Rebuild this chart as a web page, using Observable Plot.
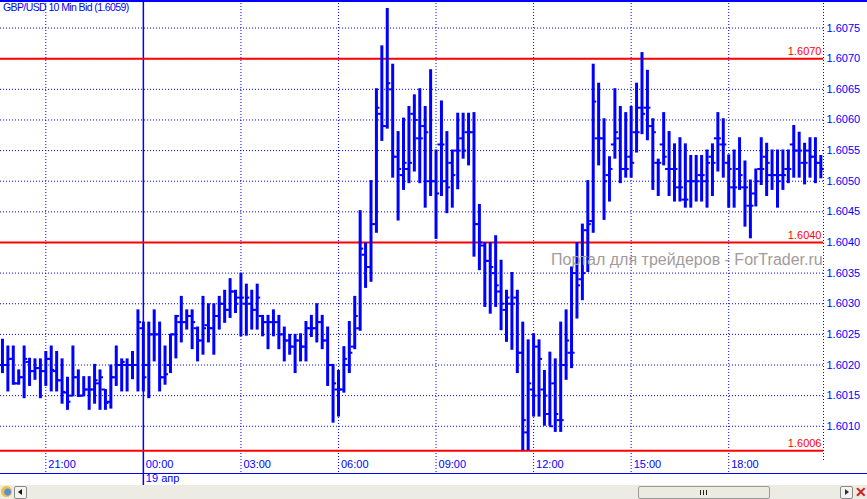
<!DOCTYPE html>
<html>
<head>
<meta charset="utf-8">
<script src="https://cdn.jsdelivr.net/npm/d3@7"></script>
<script src="https://cdn.jsdelivr.net/npm/@observablehq/plot@0.6"></script>
<style>
  html, body { margin: 0; padding: 0; background: #fff; }
  #wrap { position: relative; width: 867px; height: 499px; overflow: hidden; background: #fff;
          font-family: "Liberation Sans", Arial, sans-serif; }
  #chart { position: absolute; left: 0; top: 0; }
  .ov { position: absolute; white-space: nowrap; }
  #topline { left: 0; top: 0; width: 867px; height: 2px; background: #0000ff; }
  #botline { left: 0; top: 473px; width: 867px; height: 1px; background: #0000ff; }
  #title { left: 3px; top: 1px; font-size: 10.5px; letter-spacing: -0.6px; color: #0000ff; line-height: 13px; }
  #wm { left: 551px; top: 253px; font-size: 16px; color: #a39b9b; line-height: 14px; }
  #scroll { left: 0; top: 485px; width: 867px; height: 14px; background: #ecebe4; }
  .btn { position: absolute; top: 1px; width: 11px; height: 11px; background: #f4f3ee; border: 1px solid #8a8a8a; border-radius: 2px; }
  #thumb { position: absolute; left: 638px; top: 1px; width: 130px; height: 11px; background: #ecebe2; border: 1px solid #9a9a9a; border-radius: 2px; }
  #grip { position: absolute; left: 61px; top: 3px; width: 7px; height: 5px;
          background: repeating-linear-gradient(90deg, #222 0 1px, transparent 1px 3px); }
</style>
</head>
<body>
<div id="wrap">
  <div id="chart"></div>
  <div class="ov" id="topline"></div>
  <div class="ov" id="botline"></div>
  <div class="ov" id="title"></div>
  <div class="ov" id="wm"></div>
  <div class="ov" id="scroll">
    <div class="ov" style="left:1px;top:1px;width:11px;height:11px;border-radius:6px;background:radial-gradient(circle at 60% 55%, #5a8fd8 0 3px, #f0c040 4px 6px);"></div>
    <div class="btn" style="left:14px;"><div style="position:absolute;left:3px;top:2px;width:0;height:0;border-top:3.5px solid transparent;border-bottom:3.5px solid transparent;border-right:4px solid #111;"></div></div>
    <div id="thumb"><div id="grip"></div></div>
    <div class="btn" style="left:840px;"><div style="position:absolute;left:4px;top:2px;width:0;height:0;border-top:3.5px solid transparent;border-bottom:3.5px solid transparent;border-left:4px solid #234;"></div></div>
    <div class="ov" style="left:855px;top:0px;width:12px;height:14px;color:#d02020;font-weight:bold;font-size:14px;line-height:14px;">✕</div>
  </div>
</div>
<script>
// ---- Text ----
const titleText = "GBP/USD 10 Min Bid (1.6059)";
const watermarkText = "Портал для трейдеров - ForTrader.ru";
const dateLabel = "19 апр";

// ---- Data: 10-minute bars, values in pips above 1.6000 ----
const basePrice = 1.6;
const firstBarMinute = 1180;   // 18 Apr 19:40 (minutes from 18 Apr 00:00)
const barMinutes = 10;

const openPips = [20,20,21,17,18,20.5,19,19.5,19,21, 19,17.5,15.5,15,18,15,16,16,17,16,
  14,18,20,20,20,20,26,20,25,25, 18,20,25,27,27,28,26,24,26.5,26,
  28,30,29,32,31,30,30,29,28,27, 27,27,25,24,23,24,23,26,26,27,
  24,20,16,16,20,23,26,38,36,43, 61,59,65,54,51,52,61,57,59,50,
  50,56,50,53,55,57,58,58,43,39.5, 37,35,32,29,30,31,22,9,16,23,
  16,12,17,11,20,22,35,34,42,43.5, 57,57,51,56,57,52,54,58,62,62,
  59,53,56,52,52,49,47,50,50,51, 50,54,57,56,53,49,52,49,46,48,
  52,54,51,51,51,52,56,55,53,55, 54,53];

const highPips = [24.2,23.1,23.1,19.2,23.1,21.1,21,21,22.2,23.1, 22.2,21,18,23.1,19.2,18.1,18.1,20.1,19.2,16,
  20,23.1,21,21,22.2,29,27,27,29,27, 23.1,25,28.1,31.2,29,29,26.2,31.2,30,30,
  31.2,32.2,34.1,32.2,35,33.2,32.2,33.2,28.1,28.1, 29,28.1,26.2,25,25,25.1,27.1,28.1,30,28.1,
  26.2,20.1,19.1,23,27.1,31.2,45.2,39.9,50.1,65.1, 72.1,78.2,69.1,58.1,60.3,62.2,64.1,65.1,62.2,68.2,
  55.1,63.1,58.1,55.1,61.1,61.1,61.1,61.2,46.2,40, 40,41.1,37.1,32.2,35.1,32.2,27,24.1,25.1,24.1,
  19.1,22.1,21,27,29,36,40,43,50.1,69.1, 66,60.2,54,65.1,62.2,61.2,62.2,66,71,68.1,
  60.2,53.6,61.2,58.1,56.1,57.1,56.1,54.2,54.2,54.2, 55.1,56.1,61.2,60.2,54.3,55.1,57.1,53.3,50.2,52,
  57.1,56.2,55.1,55.1,55.1,55.1,59.1,58,56.2,57.1, 57.1,54.2];

const lowPips = [18.6,15.6,16.7,16.7,14.5,16.5,17.5,14.5,16.5,15.6, 15.6,13.6,12.6,14.8,14.7,14.8,12.6,13.6,12.6,12.6,
  12.8,16.5,15.6,15.6,17.6,15.6,15.6,14.5,20.5,15.6, 16.7,18.6,21,23.6,25.7,22.5,20.5,21.6,23.6,21.6,
  25.7,26.8,27.6,28.4,24.6,24.7,25.7,25.7,24.6,22.5, 24.6,22.5,20.5,21.6,18.6,20.5,20.5,24.5,23.6,22.5,
  16.5,10.5,11.5,15.4,18.6,22.5,25.5,32.5,33.5,41.5, 56.5,58.5,50.5,43.5,48.5,49.6,51.5,49.6,45.6,47.5,
  40.5,47.5,44.7,45.6,48.6,53.6,52.5,37.6,35.4,29.4, 28.3,29.4,25.6,23.7,22.4,18.6,6,6,11.5,11.5,
  10,10,9,9,17.5,19.4,27.5,30.5,35.1,41.5, 52.5,43.6,46.6,53.6,49.6,50.5,50.5,54.6,57.6,56.6,
  48.5,47.5,52.5,47.5,46.6,46.6,45.6,45.6,46.6,46.6, 45.6,47.5,51.5,50.5,45.6,45.6,48.5,42.5,40.6,45.8,
  49.3,47.5,48.5,45.6,48.5,49.6,50.5,50.5,49.4,50.5, 49.6,50.4];

const closePips = [20,21,17,18,21,19,19.5,19,21,19.2, 17.5,15.6,14,18,15,16,16,17.5,18,13.8,
  18,20,20.5,20,20,27,18,25,25,18, 18.5,25,28,27,28,27,24,26,26,28,
  30,29,32,30,31,31,29,31,27,27, 27,25,24,23,24,23,26,26,27,24,
  20,17,16,21,22,28,39,36,43,62, 59,66,54,52,53,53,60,57,58,50,
  48,56,49,51,55,55,58,43,40,37, 36,33,30,31,30,22,11,17,15,21,
  15,10,12,11,24,22,33,35,43,63, 57,50,52,58,52,52,53,58,61,62,
  58,53,54,52,52,49,47,50,50,51, 53,53,57,56,52,49,51,49,46,50,
  52,53,51,50,51,52,55,55,53,54, 53,52];

// ---- Axis ticks & levels ----
const priceTicks = [1.6010,1.6015,1.6020,1.6025,1.6030,1.6035,1.6040,1.6045,1.6050,1.6055,1.6060,1.6065,1.6070,1.6075];
const timeTickMinutes = [1260,1440,1620,1800,1980,2160,2340,2520];
const timeTickLabels = ["21:00","00:00","03:00","06:00","09:00","12:00","15:00","18:00"];
const dayBreakMinute = 1440;
const levelPrices = [1.6070, 1.6040, 1.6006];

// ---- Build table ----
const bars = openPips.map((o, i) => ({
  t: firstBarMinute + barMinutes * i,
  o: basePrice + o / 1e4,
  h: basePrice + highPips[i] / 1e4,
  l: basePrice + lowPips[i] / 1e4,
  c: basePrice + closePips[i] / 1e4
}));

const BLUE = "#0000ff", RED = "#ff0000";
const xMin = 1176.4, xMax = 2694.9;
const tickLen = 6.5; // minutes

const chart = Plot.plot({
  width: 867,
  height: 485,
  marginLeft: 0,
  marginRight: 44,
  marginTop: 0,
  marginBottom: 28,
  style: { fontFamily: "'Liberation Sans', Arial, sans-serif", fontSize: "11px", background: "transparent", overflow: "visible" },
  x: { type: "linear", domain: [xMin, xMax], axis: null },
  y: { type: "linear", domain: [1.60049, 1.60795], axis: null },
  marks: [
    Plot.ruleY(priceTicks, { stroke: BLUE, strokeWidth: 1, strokeDasharray: "1,2" }),
    Plot.ruleX(timeTickMinutes.filter(m => m !== dayBreakMinute), { stroke: BLUE, strokeWidth: 1, strokeDasharray: "1,2", insetBottom: -15 }),
    Plot.ruleX([xMax], { stroke: BLUE, strokeWidth: 1, strokeDasharray: "1,2", insetBottom: -3 }),
    Plot.ruleX([dayBreakMinute], { stroke: BLUE, strokeWidth: 1.5, insetBottom: -36 }),
    Plot.ruleY(levelPrices, { stroke: RED, strokeWidth: 2 }),
    Plot.text(levelPrices, { y: d => d, frameAnchor: "right", dx: -2, dy: -7, text: d => d.toFixed(4), textAnchor: "end", fill: RED, fontSize: 11 }),
    Plot.ruleX(bars, { x: "t", y1: "l", y2: "h", stroke: BLUE, strokeWidth: 3 }),
    Plot.ruleY(bars, { y: "o", x1: d => d.t - tickLen, x2: "t", stroke: BLUE, strokeWidth: 2 }),
    Plot.ruleY(bars, { y: "c", x1: "t", x2: d => d.t + tickLen, stroke: BLUE, strokeWidth: 2 }),
    Plot.axisY(priceTicks, { anchor: "right", tickSize: 0, tickPadding: 3, tickFormat: d => d.toFixed(4), fill: BLUE, fontSize: 11 }),
    Plot.text(timeTickMinutes, { x: d => d, text: (d, i) => timeTickLabels[i], frameAnchor: "bottom", dy: 10, dx: 2.5, textAnchor: "start", fill: BLUE, fontSize: 11 }),
    Plot.text([dateLabel], { x: () => dayBreakMinute, text: d => d, frameAnchor: "bottom", dy: 24, dx: 2.5, textAnchor: "start", fill: BLUE, fontSize: 11 })
  ]
});
document.getElementById("chart").appendChild(chart);
document.getElementById("title").textContent = titleText;
document.getElementById("wm").textContent = watermarkText;
</script>
</body>
</html>
